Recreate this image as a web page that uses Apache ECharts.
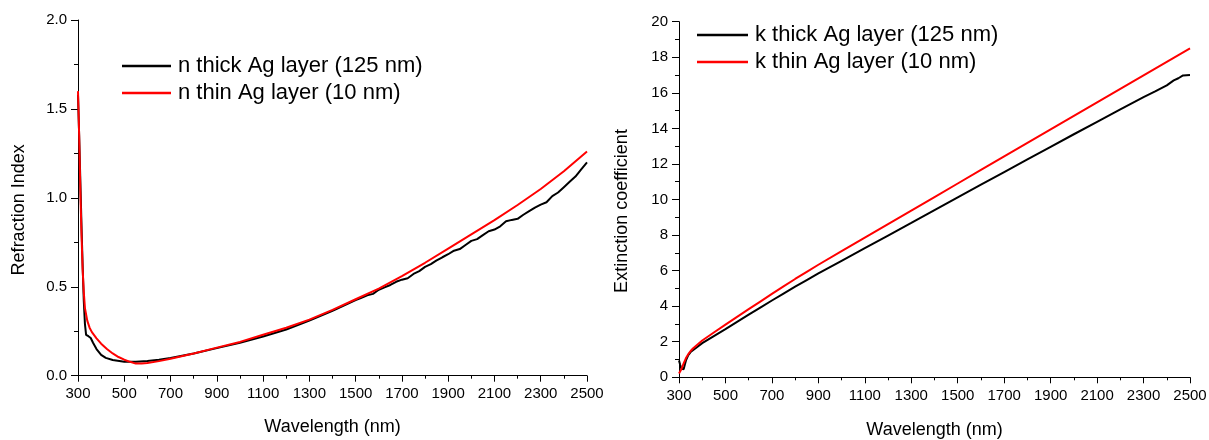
<!DOCTYPE html>
<html>
<head>
<meta charset="utf-8">
<script src="https://cdn.jsdelivr.net/npm/echarts@6/dist/echarts.min.js"></script>
<style>
html,body{margin:0;padding:0;background:#fff;}
#chart{width:1209px;height:440px;}
</style>
</head>
<body>
<div id="chart"></div>
<script>
// ---- Left chart: refraction index n ----
const nThickWl = [300,305,310,315,320,325,330,335,345,355,365,380,400,420,450,500,550,600,650,700,800,900,1000,1100,1200,1300,1400,1500,1525,1550,1575,1600,1625,1650,1675,1700,1725,1750,1775,1800,1825,1850,1875,1900,1925,1950,1975,2000,2025,2050,2075,2100,2125,2150,2175,2200,2225,2250,2275,2300,2325,2350,2375,2400,2425,2450,2475,2500];
const nThick = [1.58,1.35,1.10,0.85,0.62,0.42,0.29,0.23,0.222,0.212,0.185,0.15,0.117,0.10,0.088,0.079,0.078,0.082,0.09,0.10,0.125,0.155,0.185,0.22,0.26,0.31,0.365,0.425,0.438,0.452,0.46,0.483,0.497,0.51,0.528,0.54,0.548,0.572,0.588,0.612,0.627,0.648,0.666,0.683,0.703,0.712,0.735,0.758,0.768,0.79,0.812,0.822,0.84,0.868,0.876,0.882,0.905,0.925,0.945,0.962,0.975,1.01,1.03,1.06,1.09,1.12,1.16,1.20];
const nThinWl = [300,305,310,315,320,325,330,340,350,360,380,400,425,450,475,500,525,550,575,600,650,700,800,900,1000,1100,1200,1300,1400,1500,1600,1700,1800,1900,2000,2100,2200,2300,2400,2500];
const nThin = [1.60,1.35,1.05,0.80,0.60,0.47,0.38,0.31,0.27,0.245,0.21,0.18,0.15,0.125,0.105,0.09,0.078,0.068,0.068,0.072,0.082,0.095,0.125,0.158,0.19,0.23,0.27,0.315,0.37,0.43,0.49,0.56,0.635,0.715,0.795,0.875,0.96,1.05,1.15,1.26];

// ---- Right chart: extinction coefficient k ----
const kThickWl = [300,305,310,315,320,325,330,340,350,360,380,400,450,500,550,600,650,700,750,800,850,900,1000,1100,1200,1300,1400,1500,1600,1700,1800,1900,2000,2100,2200,2300,2350,2400,2430,2450,2470,2500];
const kThick = [0.95,0.70,0.48,0.40,0.45,0.70,0.95,1.25,1.42,1.52,1.72,1.92,2.32,2.71,3.12,3.52,3.92,4.32,4.71,5.10,5.47,5.84,6.55,7.26,7.97,8.68,9.40,10.12,10.83,11.54,12.25,12.96,13.67,14.37,15.07,15.76,16.08,16.42,16.70,16.82,16.98,17.00];
const kThinWl = [300,310,320,330,340,350,360,380,400,450,500,550,600,650,700,750,800,850,900,1000,1100,1200,1300,1400,1500,1600,1700,1800,1900,2000,2100,2200,2300,2400,2500];
const kThin = [0.22,0.45,0.78,1.08,1.30,1.48,1.62,1.85,2.07,2.52,2.96,3.40,3.83,4.26,4.69,5.11,5.53,5.93,6.33,7.10,7.86,8.62,9.38,10.14,10.90,11.66,12.42,13.18,13.94,14.70,15.46,16.22,16.98,17.74,18.50];

const legendLeft = ['n thick Ag layer (125 nm)','n thin Ag layer (10 nm)'];
const legendRight = ['k thick Ag layer (125 nm)','k thin Ag layer (10 nm)'];

const FONT = '"Liberation Sans", Arial, sans-serif';
function zip(a,b){return a.map((v,i)=>[v,b[i]]);}

function xAxis(gi, gap){
  return {
    type:'value', gridIndex:gi, min:300, max:2500, interval:200,
    name:'Wavelength (nm)', nameLocation:'middle', nameGap:gap,
    nameTextStyle:{fontFamily:FONT,fontSize:18,color:'#000'},
    axisLine:{show:true,onZero:false,lineStyle:{color:'#000',width:1}},
    axisTick:{show:true,inside:false,length:6,lineStyle:{color:'#000'}},
    minorTick:{show:true,splitNumber:2,length:3,lineStyle:{color:'#000'}},
    splitLine:{show:false},
    axisLabel:{fontFamily:FONT,fontSize:15,color:'#000',margin:11,showMaxLabel:true,showMinLabel:true,
      formatter:v=>String(v)}
  };
}
function yAxis(gi, max, interval, name, gap, dec, pad){
  return {
    type:'value', gridIndex:gi, min:0, max:max, interval:interval,
    name:name, nameLocation:'middle', nameGap:gap,
    nameTextStyle:{fontFamily:FONT,fontSize:18,color:'#000',padding:pad},
    axisLine:{show:true,onZero:false,lineStyle:{color:'#000',width:1}},
    axisTick:{show:true,inside:false,length:7,lineStyle:{color:'#000'}},
    minorTick:{show:true,splitNumber:2,length:4,lineStyle:{color:'#000'}},
    splitLine:{show:false},
    axisLabel:{fontFamily:FONT,fontSize:15,color:'#000',margin:11,
      formatter:v=>v.toFixed(dec)}
  };
}
function line(name, data, color, xi, yi){
  return {name:name,type:'line',xAxisIndex:xi,yAxisIndex:yi,data:data,
    showSymbol:false,symbol:'none',smooth:false,
    lineStyle:{color:color,width:2},itemStyle:{color:color},z:color==='#ff0000'?3:2};
}
function legend(names, left, top, w){
  return {data:names,left:left,top:top,orient:'vertical',padding:0,icon:'rect',
    itemWidth:w,itemHeight:2.5,itemGap:5,
    textStyle:{fontFamily:FONT,fontSize:22,color:'#000',lineHeight:22,padding:[0,0,0,2]}};
}

const chart = echarts.init(document.getElementById('chart'),null,{renderer:'canvas'});
chart.setOption({
  animation:false,
  backgroundColor:'#fff',
  grid:[
    {left:78,top:20,width:509,height:355.7,outerBoundsMode:'none',containLabel:false},
    {left:679,top:21.7,width:511,height:355.6,outerBoundsMode:'none',containLabel:false}
  ],
  legend:[legend(legendLeft,122,55,49), legend(legendRight,697,24,51)],
  xAxis:[xAxis(0,42), xAxis(1,44)],
  yAxis:[yAxis(0,2,0.5,'Refraction Index',50,1,[0,24,0,0]), yAxis(1,20,2,'Extinction coefficient',48,0,[0,23,0,0])],
  series:[
    line(legendLeft[0], zip(nThickWl,nThick), '#000000',0,0),
    line(legendLeft[1], zip(nThinWl,nThin), '#ff0000',0,0),
    line(legendRight[0], zip(kThickWl,kThick), '#000000',1,1),
    line(legendRight[1], zip(kThinWl,kThin), '#ff0000',1,1)
  ]
});
</script>
</body>
</html>
